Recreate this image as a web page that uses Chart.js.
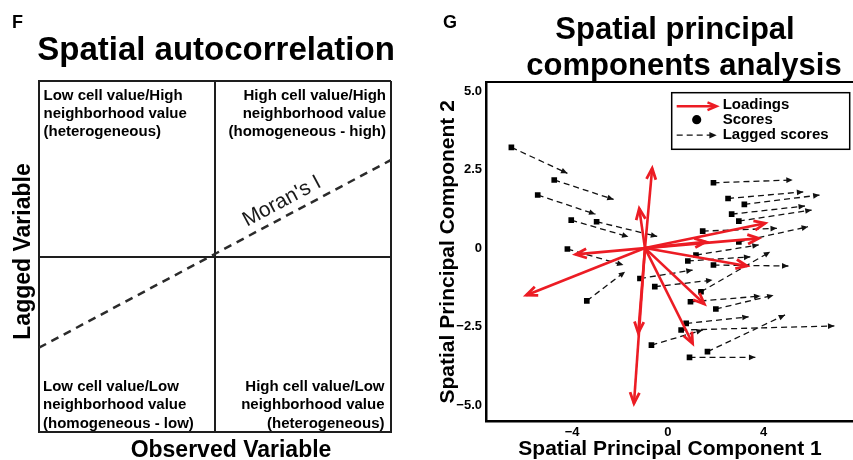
<!DOCTYPE html>
<html>
<head>
<meta charset="utf-8">
<title>Spatial autocorrelation / sPCA</title>
<script src="https://cdn.jsdelivr.net/npm/chart.js@4.4.1/dist/chart.umd.min.js"></script>
<style>
  html, body { margin: 0; padding: 0; background: #fff; overflow: hidden; width: 853px; height: 460px; }
  #wrapF { position: absolute; left: 0; top: 0; }
  #wrapG { position: absolute; left: 430px; top: 0; }
</style>
</head>
<body>
<div id="wrapF"><canvas id="autocorr" width="430" height="460"></canvas></div>
<div id="wrapG"><canvas id="spca" width="428" height="460"></canvas></div>
<script>
const FONT = '"Liberation Sans", Arial, Helvetica, sans-serif';
const RED = "#ec1c24";
const INK = "#111";

/* ---- panel F data ---- */
const quadTopLeft = ["Low cell value/High", "neighborhood value", "(heterogeneous)"];
const quadTopRight = ["High cell value/High", "neighborhood value", "(homogeneous - high)"];
const quadBottomLeft = ["Low cell value/Low", "neighborhood value", "(homogeneous - low)"];
const quadBottomRight = ["High cell value/Low", "neighborhood value", "(heterogeneous)"];
const moranX = [-1, 1];
const moranY = [-0.52, 0.55];

/* ---- panel G data ---- */
const loadOrigin = [-0.96, 0];
const loadX = [-0.66, -1.2, -3.86, -5.92, -1.24, -1.42, 1.03, 1.52, 3.3, 1.58, 3.79, 4.06];
const loadY = [2.54, 1.26, -0.2, -1.5, -2.7, -4.95, -3.04, -1.78, -0.57, 0.2, 0.31, 0.79];

const scoreX = [-6.54, -4.75, -5.44, -4.04, -2.98, -4.2, -3.39, 1.9, 2.51, 3.19, 2.66, 2.96, 1.45, 2.96,
                1.17, 0.83, 1.9, 1.38, -1.17, -0.55, 0.94, 2.0, 0.76, 0.55, -0.69, 1.65, 0.9];
const scoreY = [3.21, 2.17, 1.69, 0.89, 0.84, -0.03, -1.68, 2.08, 1.58, 1.39, 1.08, 0.86, 0.54, 0.2,
                -0.22, -0.41, -0.54, -1.39, -0.97, -1.23, -1.71, -1.94, -2.4, -2.61, -3.09, -3.3, -3.48];
const lagX = [-4.2, -2.27, -3.03, -1.65, -0.45, -1.86, -1.79, 5.21, 5.65, 6.33, 5.72, 6.0, 4.55, 5.85,
              3.79, 3.44, 5.03, 4.27, 1.03, 1.86, 3.86, 4.41, 3.37, 6.95, 1.45, 4.89, 3.65];
const lagY = [2.38, 1.55, 1.08, 0.36, 0.37, -0.54, -0.75, 2.17, 1.79, 1.69, 1.34, 1.21, 0.63, 0.68,
              0.1, -0.28, -0.57, -0.12, -0.7, -1.02, -1.53, -1.5, -2.19, -2.48, -2.61, -2.13, -3.48];

const xTicks = [-4, 0, 4];
const yTicks = [-5, -2.5, 0, 2.5, 5];
const yTickLabels = ["\u22125.0", "\u22122.5", "0", "2.5", "5.0"];
const xTickLabels = ["\u22124", "0", "4"];

/* ---- helpers ---- */
function vHead(ctx, x, y, ang, len, spread, color, width) {
  ctx.save();
  ctx.strokeStyle = color;
  ctx.lineWidth = width;
  ctx.lineJoin = "miter";
  ctx.setLineDash([]);
  ctx.beginPath();
  ctx.moveTo(x - len * Math.cos(ang - spread), y - len * Math.sin(ang - spread));
  ctx.lineTo(x, y);
  ctx.lineTo(x - len * Math.cos(ang + spread), y - len * Math.sin(ang + spread));
  ctx.stroke();
  ctx.restore();
}

function triHead(ctx, x, y, ang, len, spread, color) {
  ctx.save();
  ctx.fillStyle = color;
  ctx.beginPath();
  ctx.moveTo(x, y);
  ctx.lineTo(x - len * Math.cos(ang - spread), y - len * Math.sin(ang - spread));
  ctx.lineTo(x - len * Math.cos(ang + spread), y - len * Math.sin(ang + spread));
  ctx.closePath();
  ctx.fill();
  ctx.restore();
}

/* ---- panel F ---- */
const quadText = {
  id: "quadText",
  afterDraw(chart) {
    const ctx = chart.ctx;
    const ca = chart.chartArea;
    const xs = chart.scales.x, ys = chart.scales.y;
    ctx.save();
    ctx.fillStyle = "#000";
    ctx.textBaseline = "alphabetic";

    ctx.font = "bold 18px " + FONT;
    ctx.textAlign = "left";
    ctx.fillText("F", 12, 28);

    ctx.font = "bold 33px " + FONT;
    ctx.textAlign = "center";
    ctx.fillText("Spatial autocorrelation", (ca.left + ca.right) / 2 + 1, ca.top - 21);

    ctx.font = "bold 15px " + FONT;
    const lh = 18.3;
    ctx.textAlign = "left";
    quadTopLeft.forEach((t, i) => ctx.fillText(t, ca.left + 4.5, ca.top + 18.5 + i * lh));
    quadBottomLeft.forEach((t, i) => ctx.fillText(t, ca.left + 4, ca.bottom - 41 + i * lh));
    ctx.textAlign = "right";
    quadTopRight.forEach((t, i) => ctx.fillText(t, ca.right - 5, ca.top + 18.5 + i * lh));
    quadBottomRight.forEach((t, i) => ctx.fillText(t, ca.right - 6.5, ca.bottom - 41 + i * lh));

    // Moran's I along the dashed line
    const x0 = xs.getPixelForValue(moranX[0]), y0 = ys.getPixelForValue(moranY[0]);
    const x1 = xs.getPixelForValue(moranX[1]), y1 = ys.getPixelForValue(moranY[1]);
    const ang = Math.atan2(y1 - y0, x1 - x0);
    const t = 0.71;
    ctx.save();
    ctx.translate(x0 + (x1 - x0) * t, y0 + (y1 - y0) * t);
    ctx.rotate(ang);
    ctx.font = "21px " + FONT;
    ctx.textAlign = "center";
    ctx.fillStyle = "#1a1a1a";
    ctx.fillText("Moran's I", 0, -9);
    ctx.restore();

    // axis titles
    ctx.font = "bold 23px " + FONT;
    ctx.textAlign = "center";
    ctx.fillText("Observed Variable", (ca.left + ca.right) / 2 + 16, ca.bottom + 25);
    ctx.save();
    ctx.translate(29.5, (ca.top + ca.bottom) / 2 - 5);
    ctx.rotate(-Math.PI / 2);
    ctx.fillText("Lagged Variable", 0, 0);
    ctx.restore();
    ctx.restore();
  }
};

const boxAxis = (horizontal) => ({
  min: -1, max: 1,
  ticks: { display: false, stepSize: 1 },
  grid: { color: "#1e1e1e", lineWidth: 2, drawTicks: false },
  border: { color: "#1e1e1e", width: 2 },
  afterFit: s => { if (horizontal) s.height = 0; else s.width = 0; }
});

new Chart(document.getElementById("autocorr"), {
  type: "scatter",
  data: {
    datasets: [{
      label: "Moran's I",
      data: moranX.map((x, i) => ({ x, y: moranY[i] })),
      showLine: true,
      borderColor: "#2b2b2b",
      borderWidth: 2.5,
      borderDash: [8, 6],
      pointRadius: 0
    }]
  },
  options: {
    responsive: false,
    animation: false,
    events: [],
    layout: { padding: { left: 39, right: 39, top: 81, bottom: 28 } },
    plugins: { legend: { display: false }, tooltip: { enabled: false } },
    scales: { x: boxAxis(true), y: boxAxis(false) }
  },
  plugins: [quadText]
});

/* ---- panel G ---- */
const loadSets = loadX.map((x, i) => ({
  label: "Loadings",
  data: [{ x: loadOrigin[0], y: loadOrigin[1] }, { x, y: loadY[i] }],
  showLine: true,
  borderColor: RED,
  borderWidth: 2.6,
  pointRadius: 0,
  arrow: "load"
}));

const scoreSet = {
  label: "Scores",
  data: scoreX.map((x, i) => ({ x, y: scoreY[i] })),
  pointStyle: "rect",
  pointRadius: 4,
  backgroundColor: "#000",
  borderWidth: 0
};

const lagSets = scoreX.map((x, i) => ({
  label: "Lagged scores",
  data: [{ x, y: scoreY[i] }, { x: lagX[i], y: lagY[i] }],
  showLine: true,
  borderColor: INK,
  borderWidth: 1.3,
  borderDash: [6, 4],
  pointRadius: 0,
  arrow: "lag"
}));

const spcaDecor = {
  id: "spcaDecor",
  afterDatasetDraw(chart, args) {
    const ds = chart.data.datasets[args.index];
    if (!ds.arrow) return;
    const [p0, p1] = args.meta.data;
    const ang = Math.atan2(p1.y - p0.y, p1.x - p0.x);
    if (ds.arrow === "load") vHead(chart.ctx, p1.x, p1.y, ang, 12, 0.4, RED, 2.8);
    else triHead(chart.ctx, p1.x, p1.y, ang, 7, 0.42, INK);
  },
  afterDraw(chart) {
    const ctx = chart.ctx;
    const ca = chart.chartArea;
    ctx.save();
    // top frame line
    ctx.strokeStyle = "#000";
    ctx.lineWidth = 2;
    ctx.beginPath();
    ctx.moveTo(ca.left, ca.top);
    ctx.lineTo(ca.right, ca.top);
    ctx.stroke();

    // titles
    ctx.fillStyle = "#000";
    ctx.textBaseline = "alphabetic";
    ctx.font = "bold 18px " + FONT;
    ctx.textAlign = "left";
    ctx.fillText("G", 13, 28);
    ctx.font = "bold 31px " + FONT;
    ctx.textAlign = "center";
    ctx.fillText("Spatial principal", 245, 38.5);
    ctx.fillText("components analysis", 254, 74.5);

    // legend
    const bx = ca.left + 185.7, by = ca.top + 10.7;
    ctx.lineWidth = 1.5;
    ctx.strokeRect(bx, by, 178, 56.6);
    const lx0 = bx + 5, lx1 = bx + 45, tx = bx + 51;
    ctx.strokeStyle = RED;
    ctx.lineWidth = 2.4;
    ctx.beginPath();
    ctx.moveTo(lx0, by + 13.5);
    ctx.lineTo(lx1 - 2, by + 13.5);
    ctx.stroke();
    vHead(ctx, lx1, by + 13.5, 0, 10, 0.4, RED, 2.4);
    ctx.fillStyle = "#000";
    ctx.beginPath();
    ctx.arc(bx + 25, by + 27, 4.6, 0, Math.PI * 2);
    ctx.fill();
    ctx.strokeStyle = INK;
    ctx.lineWidth = 1.3;
    ctx.setLineDash([6, 4]);
    ctx.beginPath();
    ctx.moveTo(lx0, by + 42.5);
    ctx.lineTo(lx1, by + 42.5);
    ctx.stroke();
    ctx.setLineDash([]);
    triHead(ctx, lx1, by + 42.5, 0, 8, 0.42, INK);
    ctx.font = "bold 15px " + FONT;
    ctx.textAlign = "left";
    ctx.textBaseline = "middle";
    ctx.fillText("Loadings", tx, by + 12.5);
    ctx.fillText("Scores", tx, by + 27.5);
    ctx.fillText("Lagged scores", tx, by + 42.5);
    ctx.restore();
  }
};

new Chart(document.getElementById("spca"), {
  type: "scatter",
  data: { datasets: [...loadSets, scoreSet, ...lagSets] },
  options: {
    responsive: false,
    animation: false,
    events: [],
    layout: { padding: { left: 0, right: 0, top: 82, bottom: 0 } },
    plugins: { legend: { display: false }, tooltip: { enabled: false } },
    scales: {
      x: {
        min: -7.6, max: 7.77,
        afterBuildTicks: s => { s.ticks = xTicks.map(v => ({ value: v })); },
        afterFit: s => { s.height = 38.3; },
        ticks: {
          color: "#000", padding: 3,
          font: { family: FONT, size: 13, weight: "bold" },
          callback: v => xTickLabels[xTicks.indexOf(v)]
        },
        grid: { display: false, drawTicks: false },
        border: { color: "#000", width: 2.5 },
        title: {
          display: true, text: "Spatial Principal Component 1", color: "#000",
          font: { family: FONT, size: 21, weight: "bold", lineHeight: 1 },
          padding: { top: 0, bottom: 0.5 }
        }
      },
      y: {
        min: -5.53, max: 5.29,
        afterBuildTicks: s => { s.ticks = yTicks.map(v => ({ value: v })); },
        afterFit: s => { s.width = 56; },
        ticks: {
          color: "#000", padding: 4,
          font: { family: FONT, size: 13, weight: "bold" },
          callback: v => yTickLabels[yTicks.indexOf(v)]
        },
        grid: { display: false, drawTicks: false },
        border: { color: "#000", width: 2.5 },
        title: {
          display: true, text: "Spatial Principal Component 2", color: "#000",
          font: { family: FONT, size: 21, weight: "bold", lineHeight: 1 },
          padding: { top: 7.5, bottom: 0 }
        }
      }
    }
  },
  plugins: [spcaDecor]
});
</script>
</body>
</html>
